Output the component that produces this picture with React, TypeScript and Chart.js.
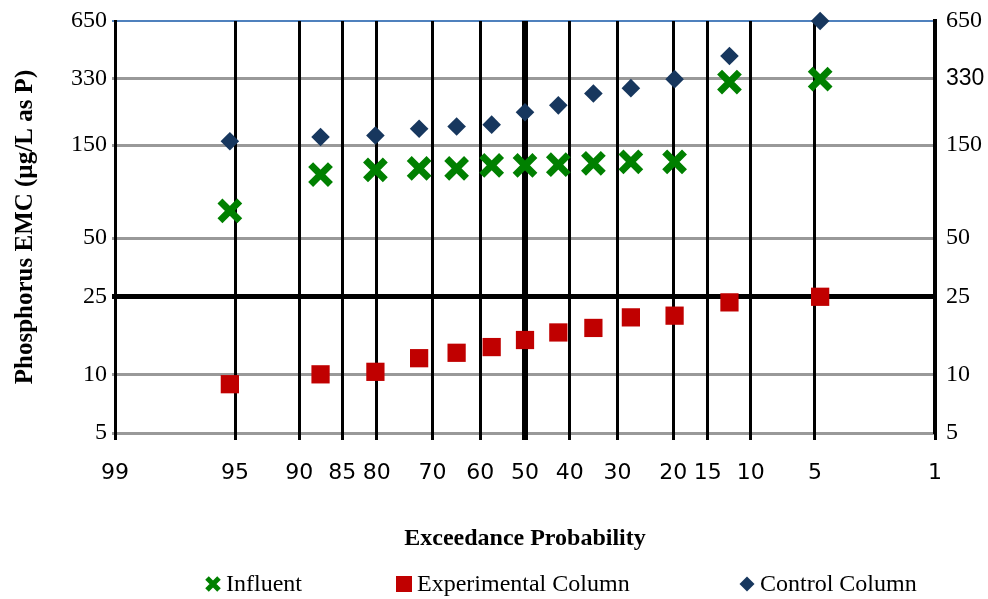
import React, { useEffect, useRef } from 'react';
import { Chart, registerables } from 'chart.js';

Chart.register(...registerables);

// Exceedance probability (%) of each ranked event
const EXCEEDANCE = [95.3, 87.7, 80.2, 72.6, 65.1, 57.5, 50.0, 42.5, 34.9, 27.4, 19.8, 12.3, 4.7];
// Phosphorus EMC (µg/L as P)
const INFLUENT = [69, 106, 112, 114, 114, 118, 118, 119, 121, 123, 123, 316, 327];
const EXPERIMENTAL = [8.9, 10.0, 10.3, 12.1, 12.9, 13.8, 15.0, 16.4, 17.3, 19.6, 20.0, 23.4, 25.0];
const CONTROL = [157, 165, 168, 182, 187, 191, 221, 240, 276, 294, 327, 430, 650];

const X_TICKS = [99, 95, 90, 85, 80, 70, 60, 50, 40, 30, 20, 15, 10, 5, 1];
const Y_TICKS = [5, 10, 25, 50, 150, 330, 650];

const SERIF = "'Liberation Serif', 'Times New Roman', serif";
const SANS = "'DejaVu Sans', Verdana, sans-serif";

// inverse standard normal CDF (Acklam) – probability-paper axis transform
function invNorm(p: number): number {
  const a = [-3.969683028665376e1, 2.209460984245205e2, -2.759285104469687e2, 1.38357751867269e2, -3.066479806614716e1, 2.506628277459239];
  const b = [-5.447609879822406e1, 1.615858368580409e2, -1.556989798598866e2, 6.680131188771972e1, -1.328068155288572e1];
  const c = [-7.784894002430293e-3, -3.223964580411365e-1, -2.400758277161838, -2.549732539343734, 4.374664141464968, 2.938163982698783];
  const d = [7.784695709041462e-3, 3.224671290700398e-1, 2.445134137142996, 3.754408661907416];
  const pl = 0.02425;
  let q: number, r: number;
  if (p < pl) {
    q = Math.sqrt(-2 * Math.log(p));
    return (((((c[0] * q + c[1]) * q + c[2]) * q + c[3]) * q + c[4]) * q + c[5]) / ((((d[0] * q + d[1]) * q + d[2]) * q + d[3]) * q + 1);
  }
  if (p <= 1 - pl) {
    q = p - 0.5;
    r = q * q;
    return ((((((a[0] * r + a[1]) * r + a[2]) * r + a[3]) * r + a[4]) * r + a[5]) * q) / (((((b[0] * r + b[1]) * r + b[2]) * r + b[3]) * r + b[4]) * r + 1);
  }
  q = Math.sqrt(-2 * Math.log(1 - p));
  return -(((((c[0] * q + c[1]) * q + c[2]) * q + c[3]) * q + c[4]) * q + c[5]) / ((((d[0] * q + d[1]) * q + d[2]) * q + d[3]) * q + 1);
}
const toZ = (exc: number) => invNorm(1 - exc / 100);

const pts = (vals: number[]) => vals.map((v, i) => ({ x: toZ(EXCEEDANCE[i]), y: v }));

const GREEN = '#008000';
const RED = '#c00000';
const NAVY = '#17375e';

const legendPlugin = {
  id: 'bottomLegend',
  afterDraw(chart: any, _args: any, opts: any) {
    const ctx: CanvasRenderingContext2D = chart.ctx;
    const y = opts.y;
    ctx.save();
    ctx.font = `24px ${SERIF}`;
    ctx.textBaseline = 'middle';
    ctx.textAlign = 'left';
    chart.data.datasets.forEach((ds: any, i: number) => {
      const cx = opts.x[i];
      const style = ds.pointStyle;
      ctx.save();
      if (style === 'crossRot') {
        ctx.strokeStyle = ds.pointBorderColor;
        ctx.lineWidth = 5;
        const h = 6;
        ctx.beginPath();
        ctx.moveTo(cx - h, y - h);
        ctx.lineTo(cx + h, y + h);
        ctx.moveTo(cx + h, y - h);
        ctx.lineTo(cx - h, y + h);
        ctx.stroke();
      } else if (style === 'rect') {
        ctx.fillStyle = ds.pointBackgroundColor;
        ctx.fillRect(cx - 8, y - 8, 16, 16);
      } else {
        ctx.fillStyle = ds.pointBackgroundColor;
        const h = 7.5;
        ctx.beginPath();
        ctx.moveTo(cx - h, y);
        ctx.lineTo(cx, y - h);
        ctx.lineTo(cx + h, y);
        ctx.lineTo(cx, y + h);
        ctx.closePath();
        ctx.fill();
      }
      ctx.restore();
      ctx.fillStyle = '#000';
      ctx.fillText(ds.label, cx + 13, y + 1);
    });
    ctx.restore();
  },
};

export default function App() {
  const ref = useRef<HTMLCanvasElement>(null);

  useEffect(() => {
    document.body.style.margin = '0';
    const yGridColor = (c: any) =>
      c.tick && c.tick.value === 25 ? '#000000' : c.tick && c.tick.value === 650 ? '#4f81bd' : '#999999';
    const yGridWidth = (c: any) =>
      c.tick && c.tick.value === 25 ? 5 : c.tick && c.tick.value === 650 ? 2 : 3;

    const chart = new Chart(ref.current as HTMLCanvasElement, {
      type: 'scatter',
      data: {
        datasets: [
          {
            label: 'Influent',
            data: pts(INFLUENT),
            pointStyle: 'crossRot',
            pointRadius: 14,
            pointBorderWidth: 7,
            pointBorderColor: GREEN,
            pointBackgroundColor: GREEN,
            showLine: false,
            clip: false,
          } as any,
          {
            label: 'Experimental Column',
            data: pts(EXPERIMENTAL),
            pointStyle: 'rect',
            pointRadius: 12.9,
            pointBorderWidth: 0,
            pointBorderColor: RED,
            pointBackgroundColor: RED,
            showLine: false,
            clip: false,
          } as any,
          {
            label: 'Control Column',
            data: pts(CONTROL),
            pointStyle: 'rectRot',
            pointRadius: 9.3,
            pointBorderWidth: 0,
            pointBorderColor: NAVY,
            pointBackgroundColor: NAVY,
            showLine: false,
            clip: false,
          } as any,
        ],
      },
      options: {
        animation: false,
        responsive: false,
        devicePixelRatio: 1,
        events: [],
        layout: { padding: { top: 17, right: 0, bottom: 0, left: 0 } },
        plugins: {
          legend: { display: false },
          tooltip: { enabled: false },
          bottomLegend: { x: [213, 404, 747], y: 584 },
        } as any,
        scales: {
          x: {
            type: 'linear',
            min: toZ(99),
            max: toZ(1),
            afterBuildTicks: (s: any) => {
              s.ticks = X_TICKS.map((p) => ({ value: toZ(p) }));
            },
            afterFit: (s: any) => {
              s.height = 166;
              s.paddingLeft = 0;
              s.paddingRight = 0;
            },
            grid: {
              color: '#000000',
              lineWidth: (c: any) => (X_TICKS[c.index] === 50 ? 6 : 3),
              drawTicks: true,
              tickLength: 7,
              tickColor: '#000000',
              z: 0,
            },
            border: { display: false },
            ticks: {
              autoSkip: false,
              maxRotation: 0,
              padding: 20,
              color: '#000000',
              font: { family: SANS, size: 22 },
              callback: (_v: any, i: number) => String(X_TICKS[i]),
            },
            title: {
              display: true,
              text: 'Exceedance Probability',
              color: '#000000',
              font: { family: SERIF, size: 24, weight: 'bold' },
              padding: { top: 0, bottom: 46 },
            },
          },
          y: {
            type: 'logarithmic',
            position: 'left',
            min: 5,
            max: 650,
            afterBuildTicks: (s: any) => {
              s.ticks = Y_TICKS.map((v) => ({ value: v }));
            },
            afterFit: (s: any) => {
              s.width = 115;
              s.paddingTop = 0;
              s.paddingBottom = 0;
            },
            grid: {
              color: yGridColor,
              lineWidth: yGridWidth,
              drawTicks: true,
              tickLength: 3,
              tickColor: yGridColor,
              z: -1,
            },
            border: { display: true, color: '#000000', width: 3 },
            ticks: {
              autoSkip: false,
              padding: 5,
              color: '#000000',
              font: { family: SERIF, size: 24 },
              callback: (v: any) => String(v),
            },
            title: {
              display: true,
              text: 'Phosphorus EMC (µg/L as P)',
              color: '#000000',
              font: { family: SERIF, size: 25, weight: 'bold' },
              padding: { top: 11, bottom: 0 },
            },
          },
          y2: {
            type: 'logarithmic',
            position: 'right',
            min: 5,
            max: 650,
            afterBuildTicks: (s: any) => {
              s.ticks = Y_TICKS.map((v) => ({ value: v }));
            },
            afterFit: (s: any) => {
              s.width = 53;
              s.paddingTop = 0;
              s.paddingBottom = 0;
            },
            grid: {
              drawOnChartArea: false,
              drawTicks: true,
              tickLength: 7,
              tickColor: 'rgba(0,0,0,0)',
            },
            border: { display: true, color: '#000000', width: 4 },
            ticks: {
              autoSkip: false,
              padding: 4,
              color: '#000000',
              font: (c: any) =>
                c.tick && c.tick.value === 330
                  ? { family: "'Liberation Sans', Arial, sans-serif", size: 23 }
                  : { family: SERIF, size: 24 },
              callback: (v: any) => String(v),
            },
          },
        },
      } as any,
      plugins: [legendPlugin],
    });
    return () => chart.destroy();
  }, []);

  return (
    <div style={{ width: 988, height: 599 }}>
      <canvas ref={ref} width={988} height={599} style={{ display: 'block' }} />
    </div>
  );
}
